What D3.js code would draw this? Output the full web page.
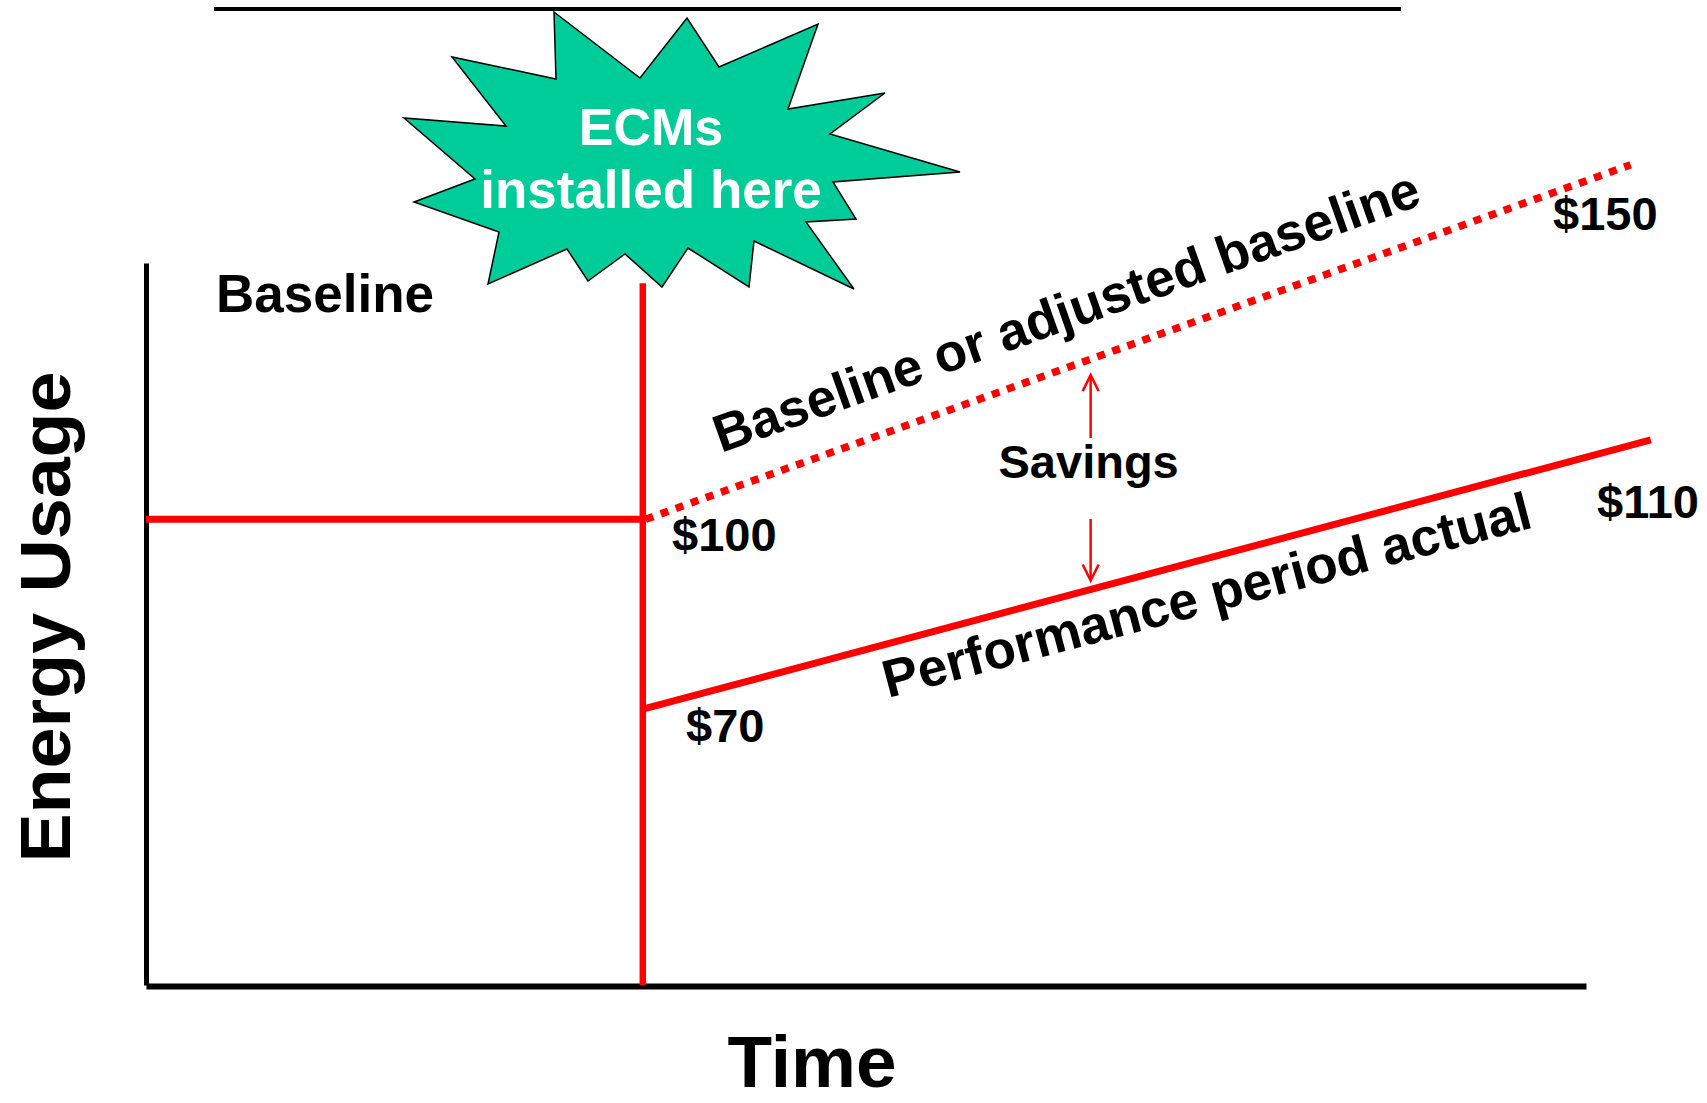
<!DOCTYPE html>
<html>
<head>
<meta charset="utf-8">
<script src="https://cdn.jsdelivr.net/npm/d3@7"></script>
<style>
  body { margin: 0; background: #fff; }
  svg text { font-family: "Liberation Sans", Arial, sans-serif; font-weight: bold; }
</style>
</head>
<body>
<svg id="chart"></svg>
<script>
// size of the picture
var width = 1707;
var height = 1103;

// time runs 0..100 along the axis, energy usage 0..100 up the axis
var timeDomain = [0, 100];
var usageDomain = [0, 100];

// when the ECMs go in
var ecmTime = 34.5;
var ecmTop = 97.2;

// usage series
var baselineTimes = [0, 34.5];
var baselineUsage = [64.5, 64.5];
var adjustedTimes = [34.7, 103.1];
var adjustedUsage = [64.5, 113.6];
var actualTimes = [34.5, 104.5];
var actualUsage = [38.2, 75.5];

// cost labels at the ends of the lines
var costLabels = ["$100", "$70", "$150", "$110"];

var savingsTime = 65.6;

var svg = d3.select("#chart")
    .attr("width", width)
    .attr("height", height);

var x = d3.scaleLinear().domain(timeDomain).range([146, 1586]);
var y = d3.scaleLinear().domain(usageDomain).range([985, 263]);

function zip(ts, us) {
  return ts.map(function(t, i) { return { t: t, u: us[i] }; });
}

var line = d3.line()
    .x(function(d) { return x(d.t); })
    .y(function(d) { return y(d.u); });

// rule across the top of the slide
svg.append("line")
    .attr("x1", 214).attr("x2", 1401)
    .attr("y1", 9).attr("y2", 9)
    .attr("stroke", "#000")
    .attr("stroke-width", 4);

// axes without ticks, just the domain lines
svg.append("g")
    .attr("transform", "translate(" + x(0) + ",0)")
    .call(d3.axisLeft(y).tickValues([]).tickSizeOuter(0))
    .select(".domain").attr("stroke-width", 5);
svg.append("g")
    .attr("transform", "translate(0," + (y(0) + 1) + ")")
    .call(d3.axisBottom(x).tickValues([]).tickSizeOuter(0))
    .select(".domain").attr("stroke-width", 6);

// ECM installation marker
svg.append("line")
    .attr("x1", x(ecmTime)).attr("x2", x(ecmTime))
    .attr("y1", y(ecmTop)).attr("y2", y(0))
    .attr("stroke", "#ff0000")
    .attr("stroke-width", 6.5);

svg.append("path")
    .datum(zip(baselineTimes, baselineUsage))
    .attr("d", line)
    .attr("fill", "none")
    .attr("stroke", "#ff0000")
    .attr("stroke-width", 7);

svg.append("path")
    .datum(zip(adjustedTimes, adjustedUsage))
    .attr("d", line)
    .attr("fill", "none")
    .attr("stroke", "#ff0000")
    .attr("stroke-width", 7.5)
    .attr("stroke-dasharray", "8,8");

svg.append("path")
    .datum(zip(actualTimes, actualUsage))
    .attr("d", line)
    .attr("fill", "none")
    .attr("stroke", "#ff0000")
    .attr("stroke-width", 7);

// savings arrows between the two lines
function lerp(ts, us, t) {
  return d3.scaleLinear().domain(ts).range(us)(t);
}
var sx = x(savingsTime);
var topTip = y(lerp(adjustedTimes, adjustedUsage, savingsTime)) + 16;
var botTip = y(lerp(actualTimes, actualUsage, savingsTime)) - 9;
var arrows = svg.append("g")
    .attr("stroke", "#ff0000")
    .attr("stroke-width", 2.5)
    .attr("fill", "none");
arrows.append("line").attr("x1", sx).attr("x2", sx).attr("y1", topTip).attr("y2", 438);
arrows.append("polyline")
    .attr("points", [[sx - 8, topTip + 16], [sx, topTip], [sx + 8, topTip + 16]].join(" "));
arrows.append("line").attr("x1", sx).attr("x2", sx).attr("y1", 519).attr("y2", botTip);
arrows.append("polyline")
    .attr("points", [[sx - 8, botTip - 16], [sx, botTip], [sx + 8, botTip - 16]].join(" "));

svg.append("text")
    .attr("x", sx - 2).attr("y", 478)
    .attr("text-anchor", "middle")
    .attr("font-size", 47)
    .text("Savings");

// starburst callout
var burst = [
  [554, 12], [640, 78], [687, 18], [719, 67], [818, 24], [788, 109],
  [885, 93], [830, 134], [960, 172], [833, 182], [856, 219], [806, 222],
  [854, 289], [754, 241], [749, 287], [688, 248], [662, 287], [625, 254],
  [588, 281], [567, 249], [488, 284], [499, 232], [414, 202], [475, 179],
  [404, 118], [506, 126], [452, 57], [556, 79]
];
svg.append("path")
    .attr("d", d3.line().curve(d3.curveLinearClosed)(burst))
    .attr("fill", "#00cc99")
    .attr("stroke", "#000")
    .attr("stroke-width", 1.5)
    .attr("stroke-linejoin", "miter");

svg.append("text")
    .attr("x", 651).attr("y", 145)
    .attr("text-anchor", "middle")
    .attr("font-size", 52)
    .attr("fill", "#fff")
    .text("ECMs");
svg.append("text")
    .attr("x", 651).attr("y", 208)
    .attr("text-anchor", "middle")
    .attr("font-size", 53)
    .attr("fill", "#fff")
    .text("installed here");

svg.append("text")
    .attr("x", 216).attr("y", 312)
    .attr("font-size", 53)
    .text("Baseline");

svg.append("text")
    .attr("transform", "translate(721,453) rotate(-19.5)")
    .attr("font-size", 53)
    .text("Baseline or adjusted baseline");

svg.append("text")
    .attr("transform", "translate(888,698) rotate(-14.8)")
    .attr("font-size", 53)
    .text("Performance period actual");

// cost labels
var costPos = [[672, 551], [686, 742], [1553, 230], [1597, 518]];
svg.selectAll("text.cost")
    .data(costLabels)
  .enter().append("text")
    .attr("class", "cost")
    .attr("x", function(d, i) { return costPos[i][0]; })
    .attr("y", function(d, i) { return costPos[i][1]; })
    .attr("font-size", 47)
    .text(function(d) { return d; });

// axis titles
svg.append("text")
    .attr("x", 812).attr("y", 1087)
    .attr("text-anchor", "middle")
    .attr("font-size", 73)
    .text("Time");

svg.append("text")
    .attr("transform", "translate(70,617) rotate(-90)")
    .attr("text-anchor", "middle")
    .attr("font-size", 70)
    .attr("textLength", 491)
    .attr("lengthAdjust", "spacingAndGlyphs")
    .text("Energy Usage");
</script>
</body>
</html>
